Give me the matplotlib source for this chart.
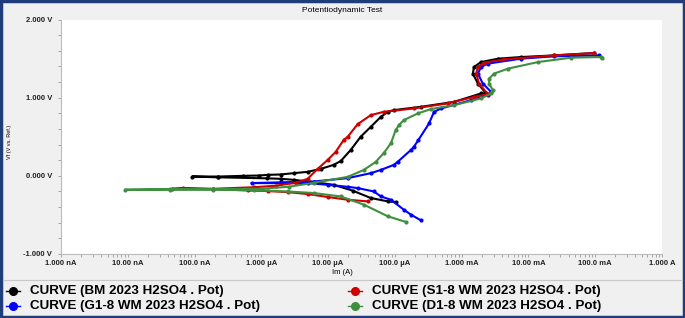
import matplotlib.pyplot as plt
from matplotlib.lines import Line2D
from matplotlib.patches import Rectangle
from matplotlib.ticker import MultipleLocator, LogLocator, NullFormatter

plt.rcParams['font.family'] = ['Liberation Sans', 'DejaVu Sans']

# current (A) and potential (V)
bm_i = [1.04e-4, 7.85e-5, 4.37e-5, 2.34e-5, 1.21e-5, 6.08e-6, 3.04e-6, 1.94e-6, 1.20e-6,
        2.28e-7, 9.27e-8, 2.28e-7, 5.40e-7, 9.08e-7, 1.28e-6, 1.94e-6, 3.04e-6, 4.94e-6,
        7.74e-6, 1.21e-5, 1.55e-5, 2.18e-5, 3.08e-5, 4.37e-5, 6.17e-5, 7.85e-5, 9.66e-5,
        2.45e-4, 7.69e-4, 1.95e-3, 2.32e-3, 1.75e-3, 1.47e-3, 1.53e-3, 1.95e-3, 3.52e-3,
        7.80e-3, 2.44e-2, 9.72e-2]
bm_v = [-0.335, -0.327, -0.284, -0.190, -0.115, -0.080, -0.051, -0.038, -0.032,
        -0.019, -0.009, -0.009, 0.000, 0.004, 0.013, 0.017, 0.034, 0.051,
        0.089, 0.140, 0.190, 0.331, 0.501, 0.628, 0.755, 0.819, 0.841,
        0.883, 0.946, 1.054, 1.054, 1.181, 1.308, 1.392, 1.456, 1.499,
        1.520, 1.541, 1.571]

s1_i = [3.94e-5, 1.97e-5, 9.86e-6, 4.94e-6, 2.47e-6, 1.24e-6, 6.21e-7, 1.91e-7, 6.79e-8,
        4.65e-8, 1.91e-7, 7.64e-7, 1.63e-6, 3.27e-6, 4.94e-6, 6.98e-6, 9.86e-6, 1.30e-5,
        1.71e-5, 1.97e-5, 2.78e-5, 4.37e-5, 6.84e-5, 1.93e-4, 6.18e-4, 1.53e-3, 2.46e-3,
        1.82e-3, 1.65e-3, 1.75e-3, 2.17e-3, 4.34e-3, 2.44e-2, 9.72e-2]
s1_v = [-0.327, -0.306, -0.271, -0.233, -0.208, -0.195, -0.187, -0.169, -0.157,
        -0.166, -0.166, -0.146, -0.127, -0.089, -0.038, 0.089, 0.204, 0.306,
        0.459, 0.501, 0.662, 0.777, 0.819, 0.862, 0.926, 1.010, 1.045,
        1.181, 1.308, 1.392, 1.448, 1.490, 1.541, 1.571]

g1_i = [2.45e-4, 1.74e-4, 1.36e-4, 8.71e-5, 6.17e-5, 4.84e-5, 2.78e-5, 1.97e-5, 9.86e-6,
        4.94e-6, 1.94e-6, 7.13e-7, 1.94e-6, 6.08e-6, 1.97e-5, 4.37e-5, 6.17e-5, 9.66e-5,
        1.11e-4, 1.74e-4, 1.93e-4, 2.25e-4, 3.25e-4, 3.86e-4, 4.91e-4, 1.38e-3, 2.47e-3,
        2.76e-3, 2.07e-3, 1.75e-3, 1.95e-3, 2.47e-3, 7.80e-3, 2.44e-2, 1.12e-1]
g1_v = [-0.569, -0.497, -0.433, -0.306, -0.264, -0.200, -0.157, -0.140, -0.115,
        -0.093, -0.093, -0.093, -0.083, -0.073, -0.029, 0.034, 0.076, 0.140,
        0.182, 0.331, 0.373, 0.459, 0.671, 0.819, 0.862, 0.968, 1.032,
        1.074, 1.181, 1.308, 1.392, 1.436, 1.499, 1.529, 1.541]

d1_i = [1.46e-4, 7.85e-5, 3.43e-5, 1.55e-5, 6.08e-6, 2.47e-6, 7.64e-7, 1.91e-7, 4.34e-8,
        9.14e-9, 4.34e-8, 1.91e-7, 9.73e-7, 2.57e-6, 6.08e-6, 1.97e-5, 3.43e-5, 5.16e-5,
        6.84e-5, 8.71e-5, 1.03e-4, 1.15e-4, 1.36e-4, 2.21e-4, 3.47e-4, 7.69e-4, 1.95e-3,
        2.76e-3, 2.93e-3, 2.58e-3, 2.58e-3, 3.06e-3, 4.98e-3, 1.40e-2, 4.40e-2, 1.24e-1,
        1.28e-1]
d1_v = [-0.590, -0.518, -0.369, -0.264, -0.220, -0.200, -0.185, -0.178, -0.178,
        -0.178, -0.169, -0.169, -0.166, -0.140, -0.089, -0.013, 0.076, 0.178,
        0.293, 0.417, 0.586, 0.650, 0.713, 0.799, 0.854, 0.904, 0.990,
        1.054, 1.096, 1.181, 1.245, 1.308, 1.372, 1.456, 1.512, 1.520,
        1.503]

labels = ["CURVE (BM 2023 H2SO4 . Pot)", "CURVE (S1-8 WM 2023 H2SO4 . Pot)",
          "CURVE (G1-8 WM 2023 H2SO4 . Pot)", "CURVE (D1-8 WM 2023 H2SO4 . Pot)"]
colors = ["#000000", "#cc0000", "#0000ff", "#3f8f3f"]
xtick_vals = [1e-9, 1e-8, 1e-7, 1e-6, 1e-5, 1e-4, 1e-3, 1e-2, 1e-1, 1]
xtick_labels = ["1.000 nA", "10.00 nA", "100.0 nA", "1.000 µA", "10.00 µA",
                "100.0 µA", "1.000 mA", "10.00 mA", "100.0 mA", "1.000 A"]
ytick_vals = [-1, 0, 1, 2]
ytick_labels = ["-1.000 V", "0.000 V", "1.000 V", "2.000 V"]

W, H = 685, 318
fig = plt.figure(figsize=(W / 100, H / 100), dpi=100, facecolor="#f0f0f0")
ax = fig.add_axes([61 / W, 1 - 254 / H, (662 - 61) / W, (254 - 19.5) / H])
ax.set_facecolor("white")

series = [(bm_i, bm_v, 0), (g1_i, g1_v, 2), (s1_i, s1_v, 1), (d1_i, d1_v, 3)]
for xi, yv, k in series:
    ax.plot(xi, yv, color=colors[k], lw=1.5, marker="o", ms=2.0)

ax.set_xscale("log")
ax.set_xlim(1e-9, 1)
ax.set_ylim(-1, 2)
ax.set_xticks(xtick_vals)
ax.set_xticklabels(xtick_labels)
ax.xaxis.set_minor_locator(LogLocator(base=10, subs=range(2, 10), numticks=20))
ax.xaxis.set_minor_formatter(NullFormatter())
ax.set_yticks(ytick_vals)
ax.set_yticklabels(ytick_labels)
ax.yaxis.set_minor_locator(MultipleLocator(0.2))
ax.tick_params(which="both", colors="#999999", labelcolor="#222222",
               labelsize=5.5, length=2.5, width=0.6)
ax.tick_params(axis="y", pad=4)
ax.tick_params(axis="x", pad=2)
for lab in ax.get_xticklabels() + ax.get_yticklabels():
    lab.set_fontweight("bold")
for s in ["top", "right"]:
    ax.spines[s].set_visible(False)
for s in ["left", "bottom"]:
    ax.spines[s].set_color("#bbbbbb")
    ax.spines[s].set_linewidth(0.8)

fig.text(0.5, 1 - 10 / H, "Potentiodynamic Test", ha="center", va="center", fontsize=6)
fig.text(0.5, 1 - 273 / H, "Im (A)", ha="center", va="center", fontsize=5.5)
fig.text(9 / W, 1 - 142 / H, "Vf (V vs. Ref.)", ha="center", va="center",
         rotation=90, fontsize=4)

# legend area
fig.add_artist(Line2D([3 / W, 682 / W], [1 - 280 / H, 1 - 280 / H],
                      color="#c8c8c8", lw=0.8))
pos = [(13, 291), (355, 291), (13, 306), (355, 306)]
order = [0, 1, 2, 3]
for (px, py), k in zip(pos, order):
    fig.add_artist(Line2D([(px - 7) / W, (px + 7) / W], [1 - py / H, 1 - py / H],
                          color=colors[k], lw=1.0))
    fig.add_artist(Line2D([px / W], [1 - py / H], color=colors[k], marker="o",
                          ms=5.5, lw=0))
    fig.text((px + 17) / W, 1 - py / H, labels[k], ha="left", va="center",
             fontsize=9.6, fontweight="bold", color="#000000")

fig.add_artist(Rectangle((0.002, 0.003), 0.996, 0.994, transform=fig.transFigure,
                         fill=False, edgecolor="#1f3d7a", lw=2.5))

fig.savefig("out.png", dpi=100, facecolor=fig.get_facecolor())
